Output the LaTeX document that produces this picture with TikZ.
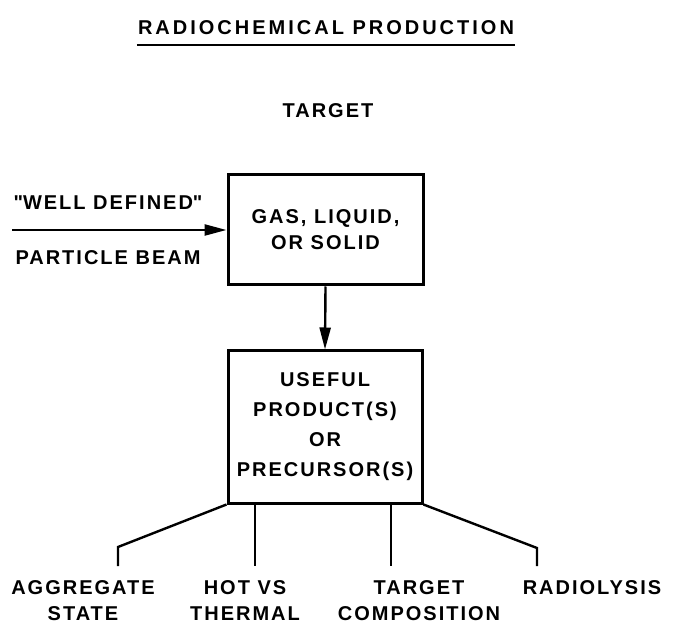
\documentclass[tikz,border=0pt]{standalone}
\usepackage{fontspec}
\setmainfont{Liberation Sans}[LetterSpace=10]
\usetikzlibrary{positioning, arrows.meta}

\begin{document}
\begin{tikzpicture}[x=0.5pt, y=-0.5pt, line width=1.2pt,
    every node/.style={font=\bfseries\fontsize{10}{13}\selectfont, align=center},
    stage/.style={draw, line width=1.5pt, inner sep=0pt},
    flow/.style={-{Triangle[length=11pt, width=5.5pt]}}]
    \useasboundingbox (0,0) rectangle (679,624);

    % Title
    \node[inner sep=0pt, font=\bfseries\fontsize{10}{13}\selectfont\addfontfeature{LetterSpace=15}]
        (title) at (326,28) {RADIOCHEMICAL PRODUCTION};
    \draw ([yshift=-4.5pt]title.south west) -- ([yshift=-4.5pt]title.south east);
    \node (targethead) at (328,111) {TARGET};

    % Boxes
    \node[stage, minimum width=97.5pt, minimum height=55pt] (target) at (325.5,230) {GAS, LIQUID,\\OR SOLID};
    \node[stage, minimum width=97pt, minimum height=76pt,
          font=\bfseries\fontsize{10}{15}\selectfont] (product) at (325,427) {USEFUL\\PRODUCT(S)\\OR\\PRECURSOR(S)};

    % Incoming beam
    \coordinate (beam) at (12,230);
    \node (welldef) at (108,203) {\textquotedbl WELL DEFINED\textquotedbl};
    \node (partbeam) at (108,258) {PARTICLE BEAM};
    \draw[flow] (beam) -- (target.west);
    \draw[flow] (target.south) -- (product.north);

    % Branches below the product box
    \coordinate (aggbend) at (118,547);
    \coordinate (radbend) at (537,548);
    \foreach \tip/\x in {aggtip/118, hottip/255, comptip/391, radtip/537}
        \coordinate (\tip) at (\x,566);
    \draw (product.south west) -- (aggbend) -- (aggtip);
    \draw (product.south east) -- (radbend) -- (radtip);
    \foreach \tip in {hottip, comptip}
        \draw (\tip |- product.south) -- (\tip);

    % Labels
    \node (aggregate) at (83,601) {AGGREGATE\\STATE};
    \node (hotvs) at (245,601) {HOT VS\\THERMAL};
    \node (composition) at (419,601) {TARGET\\COMPOSITION};
    \node (radiolysis) at (592,588) {RADIOLYSIS};
\end{tikzpicture}
\end{document}
